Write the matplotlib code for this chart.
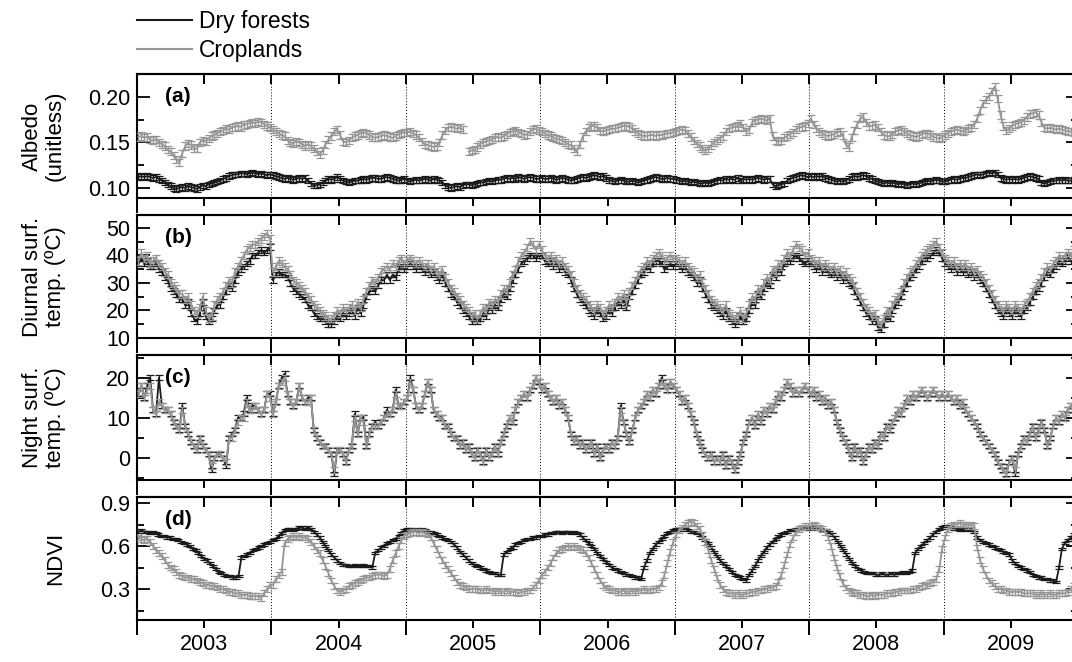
import numpy as np
import matplotlib.pyplot as plt
from matplotlib.lines import Line2D
from matplotlib.ticker import MultipleLocator, FixedLocator

plt.rcParams['font.family'] = ['Liberation Sans', 'DejaVu Sans']

years = ['2003', '2004', '2005', '2006', '2007', '2008', '2009']
nan = np.nan

# ---- (a) albedo, x1000, one list per year ----
alb_crop = [
    [156, 157, 155, 156, 153, 152, 153, 150, 148, 146, 142, 140, 136, 131, 128, 138, 146, 149, 147, 144, 143, 150, 152,
     151, 154, 157, 158, 160, 162, 163, 165, 164, 166, 167, 168, 167, 169, 170, 171, 172, 171, 173, 172, 170, 168, 166],
    [164, 162, 160, 158, 157, 152, 150, 149, 151, 150, 148, 146, 148, 146, 143, 140, 137, 141, 148, 153, 157, 162, 164,
     158, 151, 150, 152, 155, 157, 158, 160, 161, 160, 158, 156, 155, 156, 157, 158, 157, 156, 155, 157, 159, 160, 161],
    [161, 162, 160, 158, 155, 151, 148, 147, 146, 145, 146, 150, 158, 163, 166, 167, 166, 165, 166, 164, nan, 140, 141,
     142, 145, 148, 150, 151, 152, 153, 155, 156, 155, 157, 159, 161, 162, 163, 161, 160, 158, 159, 162, 164, 165, 163],
    [162, 160, 158, 157, 155, 154, 153, 152, 150, 148, 147, 143, 140, 148, 156, 162, 166, 168, 168, 166, 163, 162, 163,
     164, 165, 165, 166, 167, 168, 168, 167, 165, 162, 160, 158, 157, 157, 158, 158, 157, 158, 158, 159, 160, 160, 161],
    [162, 163, 164, 163, 160, 156, 152, 149, 146, 143, 141, 143, 147, 150, 152, 154, 157, 162, 165, 166, 167, 168, 171,
     166, 162, 164, 172, 174, 175, 176, 175, 174, 176, 157, 152, 151, 152, 155, 157, 159, 161, 164, 166, 167, 168, 171],
    [176, 170, 165, 162, 160, 158, 157, 158, 159, 161, 162, 158, 148, 145, 155, 163, 170, 176, 178, 172, 168, 168, 169,
     166, 162, 158, 157, 157, 159, 162, 163, 164, 162, 160, 158, 157, 156, 157, 159, 160, 160, 158, 156, 155, 154, 156],
    [158, 160, 162, 163, 164, 163, 162, 163, 165, 166, 170, 176, 185, 193, 197, 200, 206, 211, 198, 180, 168, 163, 165,
     168, 170, 171, 172, 174, 178, 181, 182, 183, 180, 172, 166, 165, 166, 165, 164, 165, 164, 163, 162, 162, 161, 160],
]
alb_dry = [
    [112, 113, 112, 113, 112, 111, 112, 110, 108, 106, 104, 102, 100, 99, 100, 101, 100, 102, 101, 100, 99, 101, 103,
     102, 104, 105, 106, 107, 108, 110, 111, 113, 114, 115, 115, 116, 116, 115, 116, 117, 116, 115, 116, 115, 114, 115],
    [114, 113, 112, 111, 110, 111, 110, 109, 110, 111, 110, 111, 108, 105, 103, 103, 104, 106, 108, 110, 109, 110, 112,
     110, 108, 107, 106, 107, 108, 108, 109, 110, 109, 110, 111, 111, 110, 110, 111, 112, 111, 110, 109, 108, 109, 110],
    [108, 107, 108, 109, 108, 109, 110, 109, 108, 110, 109, 108, 106, 103, 101, 100, 101, 102, 101, 103, 104, 104, 103,
     104, 105, 106, 106, 107, 108, 107, 108, 109, 109, 110, 111, 110, 111, 110, 112, 111, 110, 111, 112, 111, 110, 110],
    [111, 110, 110, 111, 110, 109, 110, 111, 110, 109, 108, 109, 110, 111, 112, 111, 112, 113, 114, 113, 112, 113, 111,
     109, 108, 107, 108, 109, 108, 107, 107, 108, 107, 106, 107, 108, 109, 110, 111, 112, 111, 110, 110, 111, 110, 110],
    [109, 108, 107, 108, 107, 106, 107, 106, 105, 105, 106, 105, 106, 107, 108, 109, 108, 110, 109, 110, 109, 111, 108,
     110, 109, 110, 109, 110, 111, 110, 109, 110, 110, 104, 102, 103, 104, 105, 108, 110, 111, 112, 113, 114, 113, 112],
    [113, 112, 113, 112, 113, 111, 110, 109, 108, 107, 108, 107, 108, 110, 112, 113, 112, 113, 114, 113, 111, 110, 108,
     107, 106, 105, 106, 105, 106, 105, 104, 105, 104, 103, 104, 105, 104, 105, 106, 107, 108, 107, 108, 109, 108, 107],
    [107, 108, 109, 110, 109, 110, 111, 111, 112, 113, 114, 115, 114, 115, 116, 117, 116, 117, 115, 111, 110, 109, 110,
     109, 110, 109, 110, 111, 112, 113, 112, 111, 110, 106, 105, 106, 107, 108, 108, 109, 108, 109, 108, 108, 109, 107],
]

# ---- (b) diurnal surface temperature, deg C ----
lstd_crop = [
    [38, 41, 39, 40, 37, 38, 39, 37, 36, 34, 33, 30, 29, 28, 26, 26, 24, 25, 22, 20, 19, 21, 25, 20, 17, 18, 22, 24,
     25, 27, 29, 31, 30, 34, 36, 38, 40, 42, 43, 44, 44, 45, 46, 47, 48, 46],
    [34, 36, 38, 37, 36, 35, 33, 31, 30, 29, 28, 27, 25, 24, 22, 21, 20, 19, 18, 17, 17, 18, 20, 19, 21, 20, 21, 22,
     20, 23, 21, 24, 27, 29, 31, 30, 32, 34, 35, 36, 35, 37, 36, 38, 39, 37],
    [38, 39, 38, 37, 38, 37, 36, 37, 35, 36, 34, 33, 35, 32, 30, 28, 27, 25, 24, 22, 21, 20, 18, 19, 17, 19, 21, 20,
     23, 22, 24, 23, 26, 28, 27, 30, 33, 35, 38, 40, 41, 43, 45, 44, 42, 44],
    [42, 40, 39, 40, 38, 39, 37, 38, 36, 35, 33, 30, 28, 26, 25, 24, 22, 21, 20, 22, 21, 19, 20, 22, 21, 23, 25, 24,
     26, 23, 27, 29, 31, 33, 35, 36, 38, 37, 39, 40, 41, 40, 38, 39, 40, 39],
    [39, 38, 37, 38, 36, 35, 34, 32, 33, 30, 28, 26, 24, 23, 22, 21, 20, 22, 19, 18, 17, 18, 20, 17, 19, 22, 25, 24,
     28, 27, 30, 32, 31, 35, 34, 37, 36, 39, 41, 40, 42, 44, 43, 42, 40, 41],
    [39, 38, 37, 38, 36, 37, 36, 35, 36, 34, 35, 33, 34, 32, 31, 29, 27, 25, 23, 21, 20, 18, 19, 16, 15, 17, 20, 19,
     22, 24, 25, 27, 30, 32, 34, 35, 37, 38, 40, 41, 42, 43, 44, 45, 43, 41],
    [39, 38, 37, 38, 36, 37, 36, 37, 35, 36, 34, 35, 33, 32, 30, 28, 26, 24, 22, 21, 20, 22, 21, 20, 22, 21, 20, 22,
     23, 25, 27, 29, 30, 32, 34, 36, 35, 37, 38, 40, 39, 40, 41, 40, 42, 42],
]
lstd_dry = [
    [37, 39, 37, 38, 36, 36, 37, 35, 34, 32, 31, 28, 27, 26, 24, 24, 22, 23, 19, 17, 16, 19, 23, 18, 16, 17, 20, 22,
     22, 25, 27, 29, 28, 31, 34, 35, 36, 37, 38, 40, 40, 41, 42, 41, 42, 43],
    [31, 33, 34, 33, 33, 32, 30, 28, 27, 26, 25, 24, 22, 21, 19, 18, 17, 17, 16, 15, 15, 16, 18, 17, 19, 18, 19, 20,
     18, 21, 19, 22, 25, 27, 28, 27, 29, 31, 31, 33, 31, 33, 32, 35, 36, 35],
    [36, 37, 36, 35, 36, 35, 34, 35, 33, 34, 32, 31, 33, 30, 28, 26, 25, 23, 22, 20, 19, 18, 16, 17, 16, 17, 19, 18,
     21, 20, 22, 21, 24, 26, 25, 28, 31, 33, 35, 37, 38, 39, 40, 40, 39, 40],
    [40, 38, 37, 38, 36, 37, 35, 36, 34, 33, 31, 28, 26, 24, 23, 22, 20, 19, 18, 20, 19, 17, 18, 20, 19, 21, 23, 22,
     24, 21, 25, 27, 29, 31, 33, 34, 36, 35, 37, 38, 38, 37, 35, 36, 37, 36],
    [37, 36, 35, 36, 34, 33, 32, 30, 31, 28, 26, 24, 22, 21, 20, 19, 18, 20, 17, 16, 15, 16, 18, 16, 17, 20, 23, 22,
     26, 25, 28, 30, 29, 33, 32, 35, 34, 37, 38, 38, 39, 40, 39, 38, 37, 38],
    [37, 36, 35, 36, 34, 35, 34, 33, 34, 32, 33, 31, 32, 30, 29, 27, 25, 23, 21, 19, 18, 16, 17, 14, 13, 15, 18, 17,
     20, 22, 23, 25, 28, 30, 32, 33, 35, 36, 38, 39, 39, 40, 41, 42, 41, 39],
    [37, 36, 35, 36, 34, 35, 34, 35, 33, 34, 32, 33, 31, 30, 28, 26, 24, 22, 20, 19, 18, 20, 19, 18, 20, 19, 18, 20,
     21, 23, 25, 27, 28, 30, 32, 34, 33, 35, 36, 38, 37, 38, 39, 38, 40, 40],
]

# ---- (c) night surface temperature, deg C ----
lstn_crop = [
    [16, 18, 15, 17, 18, 12, 11, 14, 13, 12, 12, 11, 9, 8, 7, 12, 8, 6, 4, 3, 2, 5, 3, 2, 1, -2, 0, 1, 1, 0, -1, 5,
     5, 7, 9, 10, 10, 14, 12, 12, 13, 12, 11, 12, 16, 15],
    [11, 14, 18, 19, 20, 16, 14, 13, 14, 18, 15, 14, 14, 15, 7, 5, 4, 3, 3, 2, 1, -3, 2, 2, 1, -1, 2, 3, 10, 6, 10, 9,
     3, 6, 8, 8, 8, 9, 10, 11, 11, 12, 16, 13, 13, 14],
    [15, 19, 17, 13, 12, 13, 16, 19, 17, 12, 11, 10, 10, 8, 8, 6, 5, 5, 3, 4, 2, 3, 1, 0, 2, 1, -1, 2, 0, 1, 3, 1, 4,
     6, 8, 10, 9, 12, 14, 15, 16, 15, 17, 18, 20, 19],
    [17, 18, 16, 15, 14, 15, 13, 14, 12, 10, 6, 4, 5, 3, 4, 2, 3, 4, 1, 3, 0, 2, 3, 2, 4, 3, 5, 12, 9, 6, 4, 7, 10,
     12, 13, 14, 16, 15, 17, 16, 18, 19, 18, 17, 19, 18],
    [17, 16, 14, 15, 13, 11, 9, 6, 4, 2, 1, 0, 1, -1, 0, -1, 1, -2, 0, -1, -3, -1, 1, 4, 6, 9, 10, 8, 11, 9, 12, 11,
     13, 12, 14, 16, 15, 17, 19, 18, 16, 17, 16, 17, 18, 17],
    [16, 17, 15, 16, 14, 15, 13, 14, 12, 9, 7, 5, 4, 2, 0, 3, 1, 2, -1, 1, 3, 2, 4, 3, 6, 5, 8, 7, 9, 10, 12, 11, 13,
     15, 14, 16, 15, 16, 17, 16, 15, 16, 17, 16, 15, 16],
    [15, 16, 15, 14, 15, 13, 14, 12, 11, 10, 9, 8, 6, 5, 4, 3, 2, 1, -1, -2, -3, -4, -1, 0, -3, 1, 3, 5, 4, 6, 8, 5,
     7, 9, 7, 3, 5, 8, 10, 9, 11, 10, 12, 13, 12, 14],
]
lstn_dry = [
    [16, 18, 15, 18, 20, 12, 11, 20, 13, 12, 12, 11, 9, 8, 7, 13, 8, 6, 4, 3, 2, 5, 3, 2, 1, -3, 0, 1, 1, 0, -2, 5,
     6, 7, 10, 10, 11, 15, 12, 13, 13, 12, 11, 12, 16, 16],
    [11, 14, 18, 20, 21, 16, 14, 13, 14, 18, 15, 14, 15, 15, 7, 5, 4, 3, 3, 2, 1, -4, 2, 2, 1, -1, 2, 3, 11, 6, 10, 10,
     3, 6, 8, 9, 8, 9, 10, 12, 11, 12, 17, 13, 13, 14],
    [15, 20, 17, 13, 12, 13, 16, 19, 17, 12, 11, 10, 10, 8, 8, 6, 5, 5, 3, 4, 2, 3, 1, 0, 2, 1, -1, 2, 0, 1, 3, 1, 4,
     6, 8, 10, 9, 12, 14, 15, 16, 15, 17, 18, 20, 19],
    [17, 18, 16, 15, 14, 15, 13, 14, 12, 10, 6, 4, 5, 3, 4, 2, 3, 4, 1, 3, 0, 2, 3, 2, 4, 3, 5, 13, 9, 6, 4, 7, 10,
     12, 13, 14, 16, 15, 17, 16, 18, 20, 18, 17, 19, 18],
    [17, 16, 14, 15, 13, 11, 9, 6, 4, 2, 1, 0, 1, -1, 0, -1, 1, -2, 0, -1, -3, -1, 1, 4, 6, 9, 10, 8, 11, 9, 12, 11,
     13, 12, 14, 16, 15, 17, 19, 18, 16, 17, 16, 17, 18, 17],
    [16, 17, 15, 16, 14, 15, 13, 14, 12, 9, 7, 5, 4, 2, 0, 3, 1, 2, -1, 1, 3, 2, 4, 3, 6, 5, 8, 7, 9, 10, 12, 11, 13,
     15, 14, 16, 15, 16, 17, 16, 15, 16, 17, 16, 15, 16],
    [15, 16, 15, 14, 15, 13, 14, 12, 11, 10, 9, 8, 6, 5, 4, 3, 2, 1, -1, -2, -3, -4, -1, 0, -4, 1, 3, 5, 4, 6, 8, 5,
     7, 9, 7, 3, 5, 8, 10, 9, 11, 10, 12, 13, 12, 14],
]

# ---- (d) NDVI, x100 ----
ndvi_crop = [
    [66, 65, 64, 65, 63, 60, 57, 55, 53, 50, 47, 45, 44, 42, 40, 39, 38, 38, 37, 37, 36, 35, 34, 33, 33, 32, 32, 31,
     30, 30, 29, 28, 28, 27, 27, 26, 26, 26, 25, 25, 25, 25, 24, 27, 30, 33],
    [33, 37, 40, 42, 62, 65, 66, 67, 66, 67, 66, 66, 65, 63, 60, 57, 55, 50, 46, 41, 36, 32, 29, 28, 29, 30, 32, 33,
     34, 35, 36, 37, 38, 38, 39, 40, 40, 40, 39, 40, 44, 50, 55, 60, 64, 67],
    [68, 69, 70, 70, 69, 70, 69, 68, 66, 62, 58, 54, 50, 47, 44, 41, 38, 35, 33, 32, 31, 30, 30, 30, 30, 29, 29, 30,
     29, 29, 28, 29, 28, 28, 29, 28, 28, 28, 27, 28, 28, 29, 29, 31, 33, 36],
    [40, 42, 45, 48, 52, 55, 57, 58, 59, 60, 59, 60, 59, 58, 57, 55, 52, 48, 44, 40, 36, 33, 31, 30, 29, 29, 28, 28,
     29, 28, 28, 29, 28, 29, 29, 30, 29, 29, 30, 30, 31, 34, 40, 48, 56, 63],
    [68, 71, 73, 75, 76, 77, 76, 74, 72, 68, 63, 57, 50, 44, 38, 33, 30, 28, 27, 27, 26, 27, 26, 26, 27, 27, 28, 28,
     29, 29, 30, 30, 31, 31, 32, 35, 40, 47, 54, 61, 66, 70, 72, 73, 74, 74],
    [74, 75, 74, 73, 72, 70, 66, 60, 52, 45, 39, 34, 31, 29, 28, 27, 27, 26, 26, 25, 25, 26, 25, 26, 26, 26, 27, 27,
     27, 28, 28, 29, 29, 29, 29, 30, 30, 31, 32, 33, 33, 34, 35, 37, 44, 58],
    [66, 72, 74, 75, 75, 76, 75, 75, 74, 75, 74, 59, 50, 44, 40, 36, 34, 32, 30, 30, 29, 29, 28, 28, 28, 28, 28, 27,
     27, 27, 27, 26, 26, 27, 26, 26, 27, 26, 26, 27, 27, 27, 28, 30, 32, 34],
]
ndvi_dry = [
    [70, 71, 70, 70, 69, 70, 69, 68, 67, 67, 66, 66, 65, 65, 64, 63, 62, 61, 60, 58, 57, 55, 53, 51, 50, 48, 46, 44,
     42, 41, 40, 39, 39, 38, 38, 39, 52, 53, 54, 55, 57, 58, 59, 60, 61, 62, 63],
    [64, 65, 67, 69, 71, 72, 72, 71, 72, 73, 73, 72, 73, 72, 70, 68, 66, 63, 60, 57, 54, 52, 50, 48, 47, 47, 46, 46,
     47, 46, 46, 47, 46, 46, 45, 55, 57, 59, 60, 62, 63, 64, 65, 67, 69, 71],
    [72, 72, 71, 72, 71, 72, 71, 70, 70, 69, 68, 67, 66, 65, 64, 63, 61, 59, 56, 54, 52, 50, 48, 47, 46, 45, 44, 43,
     42, 41, 41, 40, 40, 54, 56, 58, 59, 61, 62, 63, 64, 65, 65, 66, 66, 67],
    [67, 68, 68, 69, 69, 70, 70, 69, 70, 70, 69, 70, 69, 68, 66, 64, 62, 60, 58, 55, 53, 51, 49, 47, 45, 44, 43, 42,
     41, 40, 40, 39, 38, 38, 37, 45, 50, 55, 58, 61, 63, 65, 67, 69, 70, 71],
    [72, 72, 71, 72, 71, 70, 70, 69, 68, 66, 64, 62, 59, 56, 53, 50, 48, 46, 44, 42, 40, 39, 38, 37, 36, 40, 43, 46,
     50, 53, 56, 59, 61, 63, 65, 67, 68, 69, 70, 71, 71, 72, 72, 73, 73, 72],
    [73, 73, 72, 72, 71, 71, 70, 68, 66, 63, 60, 57, 54, 51, 48, 46, 44, 43, 42, 41, 41, 41, 40, 40, 41, 40, 40, 41,
     40, 41, 41, 42, 41, 42, 43, 55, 58, 60, 62, 64, 66, 68, 70, 72, 73],
    [74, 74, 73, 72, 72, 71, 72, 71, 72, 71, 70, 66, 64, 63, 62, 61, 60, 59, 58, 57, 56, 55, 54, 50, 48, 46, 45, 44,
     43, 42, 40, 39, 38, 38, 37, 37, 36, 36, 35, 45, 58, 62, 64, 66, 68, 69],
]

# typical error bar half-widths per series
err_alb = (0.004, 0.003)      # croplands, dry forests
err_lstd = (1.3, 1.0)
err_lstn = (0.8, 0.6)
err_ndvi = (0.02, 0.008)


def series(chunks, scale=1.0):
    x, y = [], []
    for k, ch in enumerate(chunks):
        n = len(ch)
        for i, v in enumerate(ch):
            x.append(k + (i + 0.5) / n)
            y.append(v * scale)
    return np.array(x), np.array(y)


W, H = 1072, 662
fig = plt.figure(figsize=(W / 100, H / 100), dpi=100)

left = 137 / W
width = (1078 - 137) / W
# (top px, bottom px) of each panel
boxes = [(74, 198), (215, 338), (355, 480), (497, 620)]

panels = [
    (alb_crop, alb_dry, 0.001, err_alb, (0.089, 0.225), 0.05, 0.025, '{:.2f}', 'Albedo\n(unitless)', '(a)'),
    (lstd_crop, lstd_dry, 1.0, err_lstd, (10.0, 54.7), 10, 5, '{:.0f}', 'Diurnal surf.\ntemp. (ºC)', '(b)'),
    (lstn_crop, lstn_dry, 1.0, err_lstn, (-5.5, 25.7), 10, 5, '{:.0f}', 'Night surf.\ntemp. (ºC)', '(c)'),
    (ndvi_crop, ndvi_dry, 0.01, err_ndvi, (0.084, 0.942), 0.3, 0.15, '{:.1f}', 'NDVI', '(d)'),
]

gray = '#969696'
black = '#1a1a1a'
mid_ticks = [k + 0.5 for k in range(7)]
year_ticks = list(range(8))

for n, (crop, dry, sc, err, ylim, maj, mnr, fmt, ylab, tag) in enumerate(panels):
    top, bot = boxes[n]
    ax = fig.add_axes([left, 1 - bot / H, width, (bot - top) / H])
    xd, yd = series(dry, sc)
    xc, yc = series(crop, sc)
    ax.errorbar(xd, yd, yerr=err[1], color=black, lw=1.3, elinewidth=0.9,
                capsize=3.2, capthick=0.9, zorder=3)
    ax.errorbar(xc, yc, yerr=err[0], color=gray, lw=1.3, elinewidth=0.9,
                capsize=3.2, capthick=0.9, zorder=4)
    for k in range(1, 7):
        ax.axvline(k, color='k', ls=(0, (1, 2)), lw=0.7, zorder=1)
    ax.set_xlim(0, 7)
    ax.set_ylim(*ylim)

    # y ticks: inward on both sides
    ax.yaxis.set_major_locator(MultipleLocator(maj))
    ax.yaxis.set_minor_locator(MultipleLocator(mnr))
    ax.yaxis.set_major_formatter(plt.FuncFormatter(lambda v, p, f=fmt: f.format(v)))
    ax.tick_params(axis='y', which='both', direction='in', right=True,
                   width=1.3, labelsize=15.5, pad=5)
    ax.tick_params(axis='y', which='major', length=9)
    ax.tick_params(axis='y', which='minor', length=5)

    # x ticks: outward below (longer at year boundaries), inward on top
    ax.xaxis.set_major_locator(FixedLocator(mid_ticks))
    ax.xaxis.set_minor_locator(FixedLocator(year_ticks))
    ax.tick_params(axis='x', which='both', direction='out', top=False,
                   width=1.4, labelsize=15.5, pad=4)
    ax.tick_params(axis='x', which='major', length=6)
    ax.tick_params(axis='x', which='minor', length=11)
    sec = ax.secondary_xaxis('top')
    sec.xaxis.set_major_locator(FixedLocator(mid_ticks))
    sec.xaxis.set_minor_locator(FixedLocator(year_ticks))
    sec.tick_params(axis='x', which='both', direction='in', length=7,
                    width=1.4, labeltop=False)
    sec.spines['top'].set_linewidth(1.5)

    if n == 3:
        ax.set_xticklabels(years)
    else:
        ax.set_xticklabels([])
    for s in ax.spines.values():
        s.set_linewidth(1.5)
    ax.set_ylabel(ylab, fontsize=16, linespacing=1.15)
    ax.yaxis.set_label_coords((66 - 137) / (1078 - 137), 0.5)
    ax.text(0.03, 0.82, tag, transform=ax.transAxes, fontsize=15,
            fontweight='bold', va='center')

handles = [Line2D([], [], color=black, lw=1.5), Line2D([], [], color=gray, lw=1.5)]
fig.legend(handles, ['Dry forests', 'Croplands'], loc='upper left',
           bbox_to_anchor=(137 / W, 1 - 10 / H), frameon=False, fontsize=16.5,
           handlelength=2.4, handletextpad=0.3, labelspacing=0.25, borderpad=0,
           borderaxespad=0)

fig.savefig('out.png', dpi=100)
